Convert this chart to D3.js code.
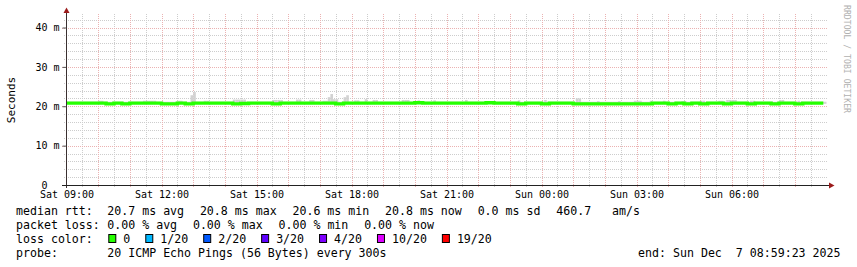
<!DOCTYPE html>
<html>
<head>
<meta charset="utf-8">
<script src="https://cdn.jsdelivr.net/npm/d3@7/dist/d3.min.js"></script>
<style>
  body { margin: 0; background: #fff; }
  svg { display: block; font-family: "DejaVu Sans Mono", monospace; }
  text { white-space: pre; }
</style>
</head>
<body>
<svg id="chart" width="857" height="267"></svg>
<script>
// median rtt (ms), one value per 15 minutes starting Sat 09:00
const medianMs = [
  20.8, 20.8, 20.8, 20.8, 20.8, 20.6, 20.8, 20.6, 20.8, 20.8, 20.8, 20.8,
  20.6, 20.6, 20.8, 20.6, 20.8, 20.8, 20.8, 20.8, 20.8, 20.6, 20.7, 20.8,
  20.8, 20.8, 20.6, 20.8, 20.8, 20.8, 20.8, 20.8, 20.8, 20.8, 20.6, 20.8,
  20.8, 20.8, 20.8, 20.8, 20.8, 20.8, 20.8, 20.8, 20.9, 20.8, 20.8, 20.8,
  20.8, 20.8, 20.8, 20.8, 20.8, 20.9, 20.8, 20.8, 20.8, 20.6, 20.8, 20.8,
  20.6, 20.8, 20.8, 20.8, 20.6, 20.6, 20.6, 20.6, 20.6, 20.6, 20.6, 20.6,
  20.6, 20.6, 20.8, 20.8, 20.6, 20.8, 20.6, 20.8, 20.6, 20.8, 20.8, 20.6,
  20.8, 20.8, 20.6, 20.8, 20.8, 20.6, 20.8, 20.8, 20.6, 20.8, 20.8, 20.8
];
const slotHours = 0.25;
const dataEndHour = 23.9;

// smoke (ping spread) that shows above the median line: 5 minute step index and top (ms)
const smokeSteps = [12, 13, 29, 30, 31, 32, 33, 42, 43, 47, 48, 52, 53,
  63, 64, 65, 66, 67, 78, 79, 80, 81, 87, 88, 92, 93, 97, 98, 99, 100, 101, 102,
  105, 106, 109, 110, 113, 116, 117, 127, 128, 129, 133, 139, 151, 171, 181,
  193, 194, 201, 209, 215, 216, 217, 221, 226, 233, 234, 240, 241, 247, 248,
  250, 251, 252, 253, 259, 260, 270, 271, 277];
const smokeTops = [21.4, 21.4, 21.4, 21.4, 21.4, 21.4, 21.4, 21.4, 21.4, 22.8, 23.6, 21.4, 21.4,
  21.7, 21.7, 21.7, 21.7, 21.7, 21.6, 21.6, 21.6, 21.6, 21.7, 21.7, 21.6, 21.6, 21.4, 21.4, 22.3, 23.1, 21.8, 21.8,
  22.3, 22.8, 21.5, 21.5, 21.8, 21.6, 21.6, 21.6, 21.6, 21.6, 21.5, 21.5, 21.6, 21.5, 21.6,
  22.0, 22.0, 21.3, 21.3, 21.4, 21.4, 21.4, 21.4, 21.4, 21.3, 21.3, 21.4, 21.4, 21.4, 21.4,
  21.6, 21.6, 21.6, 21.6, 21.4, 21.4, 21.6, 21.6, 21.4];
const smokeBand = [20.6, 21.15];
const stepHours = 5 / 60;

const yMajor = [0, 10, 20, 30, 40];
const yMinorStep = 2;
const yMax = 43.43;
const xLabelHours = [0, 3, 6, 9, 12, 15, 18, 21];
const xLabels = ["Sat 09:00", "Sat 12:00", "Sat 15:00", "Sat 18:00",
  "Sat 21:00", "Sun 00:00", "Sun 03:00", "Sun 06:00"];

const rttStats = ["20.7 ms avg", "20.8 ms max", "20.6 ms min", "20.8 ms now", "0.0 ms sd", "460.7   am/s"];
const lossStats = ["0.00 % avg", "0.00 % max", "0.00 % min", "0.00 % now"];
const lossLabels = ["0", "1/20", "2/20", "3/20", "4/20", "10/20", "19/20"];
const lossColors = ["#26ff00", "#00b8ff", "#0059ff", "#5e00ff", "#7e00ff", "#dd00ff", "#ff0000"];
const probeText = "20 ICMP Echo Pings (56 Bytes) every 300s";
const endText = "end: Sun Dec  7 08:59:23 2025";

const svg = d3.select("#chart");
const plotLeft = 66.5, plotRight = 826.5, plotBottom = 185, plotTop = 14;
const gridColor = "#cdcdcd", mgridColor = "#ebb2b2";

const x = d3.scaleLinear().domain([0, 24]).range([plotLeft, plotRight]);
const y = d3.scaleLinear().domain([0, yMax]).range([plotBottom, plotTop]);
const px = v => Math.round(v) + 0.5;

// grid
const grid = svg.append("g").attr("stroke-dasharray", "1,1");
d3.range(yMinorStep, yMax, yMinorStep).filter(v => v % 10 !== 0).forEach(v => {
  grid.append("line").attr("x1", 64).attr("x2", 828)
    .attr("y1", px(y(v))).attr("y2", px(y(v)))
    .attr("stroke", gridColor);
});
d3.range(0.5, 24, 0.5).forEach(h => {
  const major = h % 1 === 0;
  grid.append("line").attr("x1", px(x(h))).attr("x2", px(x(h)))
    .attr("y1", plotTop).attr("y2", plotBottom + 3)
    .attr("stroke", major ? mgridColor : gridColor);
});
yMajor.filter(v => v > 0).forEach(v => {
  grid.append("line").attr("x1", 62).attr("x2", 828)
    .attr("y1", px(y(v))).attr("y2", px(y(v)))
    .attr("stroke", mgridColor);
});

// smoke
const slotW = x(slotHours) - x(0);
svg.append("g").selectAll("rect").data(medianMs).join("rect")
  .attr("x", (d, i) => x(i * slotHours))
  .attr("width", slotW)
  .attr("y", y(smokeBand[1]))
  .attr("height", y(smokeBand[0]) - y(smokeBand[1]))
  .attr("fill", "#d6d6d6");

const stepW = x(stepHours) - x(0);
svg.append("g").selectAll("rect").data(smokeSteps).join("rect")
  .attr("x", d => x(d * stepHours))
  .attr("width", stepW)
  .attr("y", (d, i) => y(smokeTops[i]))
  .attr("height", (d, i) => y(smokeBand[0]) - y(smokeTops[i]))
  .attr("fill", "#d2d2d2");

// median line, coloured by loss (no loss => first colour)
const linePts = medianMs.map((v, i) => [i * slotHours, v]);
linePts.push([dataEndHour, medianMs[medianMs.length - 1]]);
svg.append("path")
  .attr("d", d3.line().x(d => x(d[0])).y(d => y(d[1])).curve(d3.curveStepAfter)(linePts))
  .attr("fill", "none")
  .attr("stroke", lossColors[0])
  .attr("stroke-width", 3.4);

// axes
const yAxis = svg.append("g")
  .attr("transform", `translate(${plotLeft},0)`)
  .call(d3.axisLeft(y).tickValues(yMajor).tickSize(4).tickPadding(3)
    .tickFormat(d => d === 0 ? "0  " : d + " m"));
yAxis.select(".domain").remove();
yAxis.selectAll(".tick line").attr("stroke", "#555");
yAxis.selectAll("text").attr("font-size", 10).attr("fill", "#000")
  .attr("font-family", "DejaVu Sans Mono").attr("xml:space", "preserve");

const xAxis = svg.append("g")
  .attr("transform", `translate(0,${plotBottom})`)
  .call(d3.axisBottom(x).tickValues(xLabelHours).tickSize(0).tickPadding(6.2)
    .tickFormat((d, i) => xLabels[i]));
xAxis.select(".domain").remove();
xAxis.selectAll("text").attr("font-size", 10).attr("fill", "#000")
  .attr("font-family", "DejaVu Sans Mono");

svg.append("line").attr("x1", plotLeft).attr("x2", plotLeft).attr("y1", plotBottom + 3).attr("y2", 12)
  .attr("stroke", "#3a3030");
svg.append("line").attr("x1", 62).attr("x2", 830).attr("y1", plotBottom + 0.5).attr("y2", plotBottom + 0.5)
  .attr("stroke", "#222");
svg.append("path").attr("d", "M63.5,13L69.5,13L66.5,7.5Z").attr("fill", "#9b1b1b");
svg.append("path").attr("d", "M829,182.5L829,188.5L834.5,185.5Z").attr("fill", "#9b1b1b");

// titles
svg.append("text").attr("transform", "translate(15,100) rotate(-90)")
  .attr("text-anchor", "middle").attr("font-size", 11).text("Seconds");
svg.append("text").attr("transform", "translate(843.5,5) rotate(90)")
  .attr("font-size", 8).attr("fill", "#b0b0b0")
  .attr("textLength", 108).attr("lengthAdjust", "spacingAndGlyphs")
  .text("RRDTOOL / TOBI OETIKER");

// legend
const legend = svg.append("g").attr("font-size", 11.6).attr("fill", "#000");
const legX = 16, valX = 107.3, gap = 15.8;
const rows = [215, 229, 243, 257];

function flowRow(baseline, label, items) {
  legend.append("text").attr("x", legX).attr("y", baseline).text(label);
  let cx = valX;
  items.forEach(s => {
    const t = legend.append("text").attr("x", cx).attr("y", baseline).text(s);
    cx += t.node().getComputedTextLength() + gap;
  });
}
flowRow(rows[0], "median rtt:", rttStats);
flowRow(rows[1], "packet loss:", lossStats);

legend.append("text").attr("x", legX).attr("y", rows[2]).text("loss color:");
let sx = valX + 1;
lossLabels.forEach((lab, i) => {
  legend.append("rect").attr("x", sx + 0.5).attr("y", rows[2] - 8.5).attr("width", 7).attr("height", 8)
    .attr("fill", lossColors[i]).attr("stroke", "#000");
  const t = legend.append("text").attr("x", sx + 15).attr("y", rows[2]).text(lab);
  sx += 15 + t.node().getComputedTextLength() + 15;
});

legend.append("text").attr("x", legX).attr("y", rows[3]).text("probe:");
legend.append("text").attr("x", valX).attr("y", rows[3]).text(probeText);
legend.append("text").attr("x", 840.5).attr("y", rows[3]).attr("text-anchor", "end").text(endText);
</script>
</body>
</html>
